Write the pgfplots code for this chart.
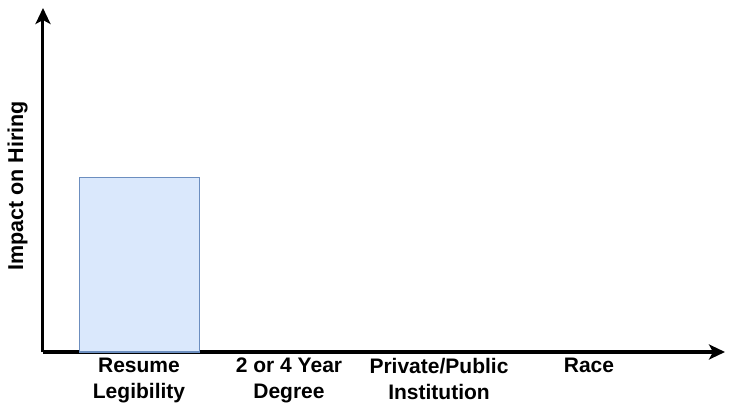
\documentclass[border=0pt]{standalone}
\usepackage{pgfplots}
\pgfplotsset{compat=1.18}
\usepackage{fontspec}
\setmainfont{Liberation Sans}
\usetikzlibrary{arrows.meta}
\definecolor{barfill}{HTML}{DAE8FC}
\definecolor{barline}{HTML}{6C8EBF}
\begin{document}
\begin{tikzpicture}
\begin{axis}[name=ax, scale only axis, width=682pt, height=344pt,
 xmin=-0.64, xmax=3.9067, ymin=0, ymax=10,
 axis lines=left,
 axis line style={line width=3pt, -{Stealth[length=16pt,width=15pt,inset=4pt]}},
 xtick={0,1,2,3}, xticklabels={Resume\\Legibility, 2 or 4 Year\\Degree, Private/Public\\Institution, Race},
 ytick=\empty, major tick length=0pt,
 xticklabel style={font=\bfseries\fontsize{21}{26}\selectfont, align=center, anchor=north, inner sep=0pt, yshift=-6pt},
 ylabel={Impact on Hiring},
 ylabel style={font=\bfseries\fontsize{21.5}{24}\selectfont, at={(axis description cs:-0.0293,0.4826)}, anchor=base, inner sep=0pt},
 clip=false]
\addplot[ybar, bar width=0.8, fill=barfill, draw=barline, line width=1pt] coordinates {(0,5.06)};
\end{axis}
\pgfresetboundingbox
\path[use as bounding box] ([shift={(-43pt,-57pt)}]ax.south west) rectangle ([shift={(10pt,8pt)}]ax.north east);
\end{tikzpicture}
\end{document}
